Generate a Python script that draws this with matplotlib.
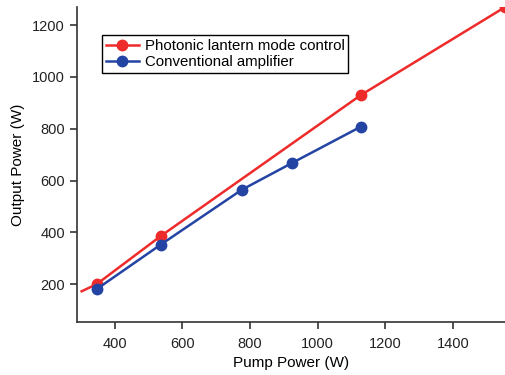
import matplotlib
matplotlib.use('Agg')
import matplotlib.pyplot as plt

# Datos
pump_lantern = [302, 346, 536, 1128, 1554]
out_lantern = [173, 200, 386, 930, 1269]
pump_conv = [346, 536, 775, 923, 1128]
out_conv = [181, 353, 564, 667, 808]

red = '#EE2B2B'
blue = '#2444A4'

plt.rcParams['font.family'] = ['Liberation Sans', 'DejaVu Sans']

fig = plt.figure(figsize=(5.06, 3.75), dpi=100)
ax = fig.add_axes([0.152, 0.141, 0.848, 0.84])

# Linea de control de modo (la primera posicion sin marcador)
ax.plot(pump_lantern, out_lantern, color=red, lw=1.8, marker='o', ms=7.5,
        markevery=[1, 2, 3, 4], label='Photonic lantern mode control')
ax.plot(pump_conv, out_conv, color=blue, lw=1.8, marker='o', ms=7.5,
        label='Conventional amplifier')

ax.set_xlim(288, 1557)
ax.set_ylim(54, 1269)
ax.set_xticks([400, 600, 800, 1000, 1200, 1400])
ax.set_yticks([200, 400, 600, 800, 1000, 1200])

for s in ['top', 'right']:
    ax.spines[s].set_visible(False)
for s in ['left', 'bottom']:
    ax.spines[s].set_linewidth(1.2)
    ax.spines[s].set_color('#333333')
ax.tick_params(direction='out', length=5, width=1.2, color='#333333',
               labelsize=10.5, labelcolor='#222222')
ax.tick_params(axis='x', pad=5.5)

ax.set_xlabel('Pump Power (W)', fontsize=11, labelpad=4)
ax.set_ylabel('Output Power (W)', fontsize=11, labelpad=5)

leg = ax.legend(loc='upper left', bbox_to_anchor=(0.058, 0.911), fontsize=10.8,
                fancybox=False, framealpha=1, edgecolor='black', borderpad=0.25,
                handlelength=2.2, handletextpad=0.4, labelspacing=0.15,
                borderaxespad=0)
leg.get_frame().set_linewidth(1.0)

plt.savefig('out.png', dpi=100)
